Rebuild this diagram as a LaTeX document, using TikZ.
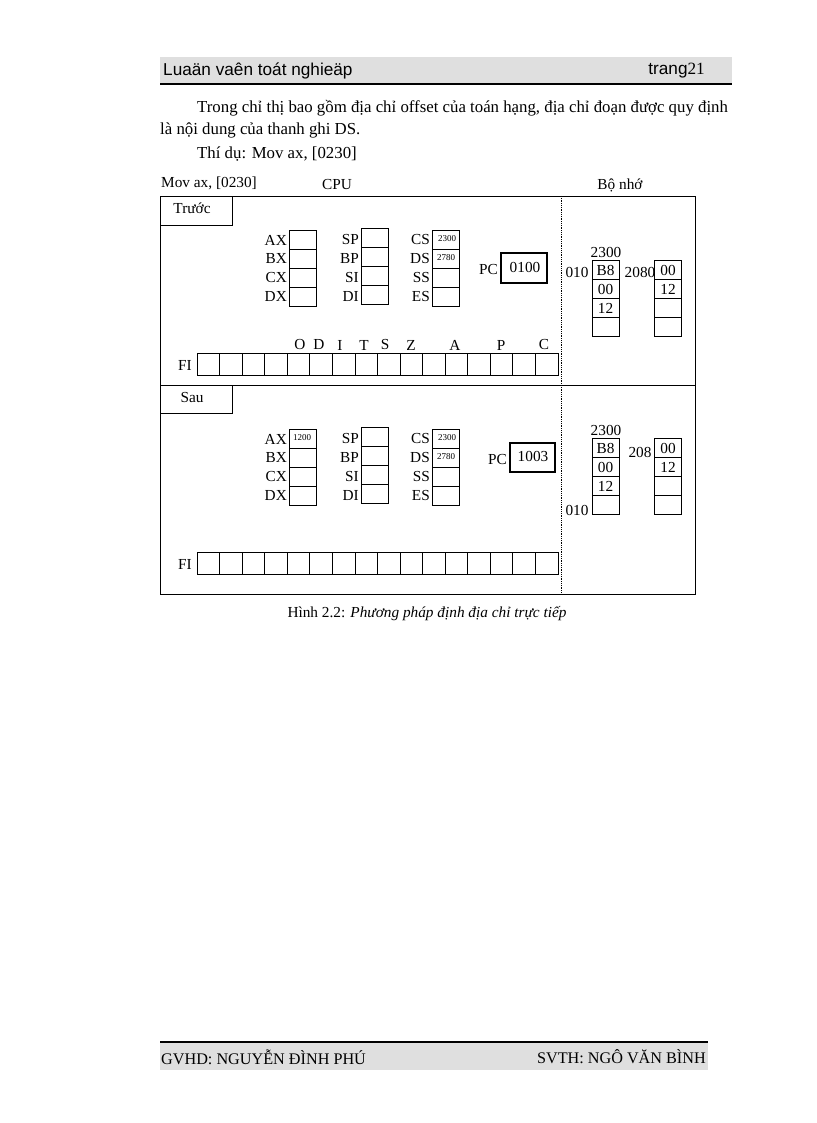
\documentclass[tikz,border=0pt]{standalone}
\usepackage{fontspec}
\setmainfont{Liberation Serif}
\newfontfamily\hdr{Liberation Sans}
\begin{document}
\begin{tikzpicture}[x=1pt,y=-1pt,
  txt/.style={inner sep=0pt,font=\fontsize{16.8}{19}\selectfont},
  lbl/.style={inner sep=0pt,font=\fontsize{15.3}{17}\selectfont},
  tiny/.style={inner sep=0pt,font=\fontsize{9}{10}\selectfont},
  cell/.style={draw,line width=0.8pt}]
\useasboundingbox (0,0) rectangle (816,1123);
\fill[white] (0,0) rectangle (816,1123);
% header
\fill[gray!25] (160,57) rectangle (732,83);
\draw[line width=2pt] (160,84) -- (732,84);
\node[anchor=west,inner sep=0pt,font=\hdr\fontsize{17.2}{19}\selectfont] (h1) at (163,71) {Luaän vaên toát nghieäp};
\node[anchor=east,inner sep=0pt,font=\hdr\fontsize{17.2}{19}\selectfont] (h2) at (705,71) {trang\textrm{21}};
% paragraph
\node[txt,anchor=west] (p1) at (197,108) {Trong chỉ thị bao gồm địa chỉ offset của toán hạng, địa chỉ đoạn được quy định};
\node[txt,anchor=west] (p2) at (160,130) {là nội dung của thanh ghi DS.};
\node[txt,anchor=west] (p3) at (197,154) {Thí dụ: Mov ax, [0230]};
\node[lbl,anchor=west] (m) at (161,183) {Mov ax, [0230]};
\node[lbl] (cpu) at (337,185) {CPU};
\node[lbl] (mem) at (620,185) {Bộ nhớ};
% frames
\draw[line width=0.8pt] (160,196) rectangle (695,594);
\draw[line width=0.8pt] (160,385) -- (695,385);
\draw[densely dotted,line width=0.8pt] (561,196) -- (561,594);
\draw[line width=0.8pt] (160,196) rectangle (232,225);
\node[lbl] (tr) at (192,208) {Trước};
\draw[line width=0.8pt] (160,385) rectangle (232,413);
\node[lbl] (sau) at (192,398) {Sau};
% registers
\foreach \dy/\ax/\cs/\ds in {0/{}/2300/2780, 199/1200/2300/2780}{
  \foreach \n [count=\i from 0] in {AX,BX,CX,DX}{
    \draw[cell] (289,230+\dy+19*\i) rectangle (316,249+\dy+19*\i);
    \node[lbl,anchor=east] at (287,240+\dy+19*\i) {\n};}
  \foreach \n [count=\i from 0] in {SP,BP,SI,DI}{
    \draw[cell] (361,228+\dy+19*\i) rectangle (388,247+\dy+19*\i);
    \node[lbl,anchor=east] at (359,240+\dy+19*\i) {\n};}
  \foreach \n [count=\i from 0] in {CS,DS,SS,ES}{
    \draw[cell] (432,230+\dy+19*\i) rectangle (459,249+\dy+19*\i);
    \node[lbl,anchor=east] at (430,240+\dy+19*\i) {\n};}
  \node[tiny] at (302,239+\dy) {\ax};
  \node[tiny] at (447,239+\dy) {\cs};
  \node[tiny] at (446,258+\dy) {\ds};
  \foreach \i in {0,...,15}{
    \draw[cell] (197+22.56*\i,353+\dy) rectangle (197+22.56*\i+22.56,375+\dy);}
  \node[lbl] at (185,365+\dy) {FI};
}
\foreach \c/\x in {O/300,D/319,I/340,T/364,S/385,Z/411,A/455,P/501,C/544}
  \node[lbl] at (\x,345) {\c};
% PC
\draw[line width=1.2pt] (501,253) rectangle (547,283);
\node[lbl] (pc1) at (525,267) {0100};
\node[lbl,anchor=east] at (498,270) {PC};
\draw[line width=1.2pt] (510,443) rectangle (555,472);
\node[lbl] (pc2) at (533,456) {1003};
\node[lbl,anchor=east] at (507,460) {PC};
% memory
\foreach \dy in {0,178}{
  \foreach \v [count=\i from 0] in {B8,00,12,{}}{
    \draw[cell] (592,260+\dy+19*\i) rectangle (619,279+\dy+19*\i);
    \node[lbl] at (605.5,270+\dy+19*\i) {\v};}
  \foreach \v [count=\i from 0] in {00,12,{},{}}{
    \draw[cell] (654,260+\dy+19*\i) rectangle (681,279+\dy+19*\i);
    \node[lbl] at (668,270+\dy+19*\i) {\v};}
  \node[lbl] at (606,252+\dy) {2300};
}
\node[lbl] at (577,272) {010};
\node[lbl] at (640,272) {2080};
\node[lbl] at (577,510) {010};
\node[lbl] at (640,452) {208};
% caption
\node[lbl] (cap) at (427,614) {Hình 2.2: \textit{Phương pháp định địa chỉ trực tiếp}};
% footer
\fill[gray!25] (160,1043) rectangle (708,1070);
\draw[line width=2pt] (160,1042) -- (708,1042);
\node[txt,anchor=west,font=\fontsize{16.2}{18}\selectfont] (f1) at (161,1057) {GVHD: NGUYỄN ĐÌNH PHÚ};
\node[txt,anchor=east,font=\fontsize{16.2}{18}\selectfont] (f2) at (706,1057) {SVTH: NGÔ VĂN BÌNH};
\end{tikzpicture}
\end{document}
